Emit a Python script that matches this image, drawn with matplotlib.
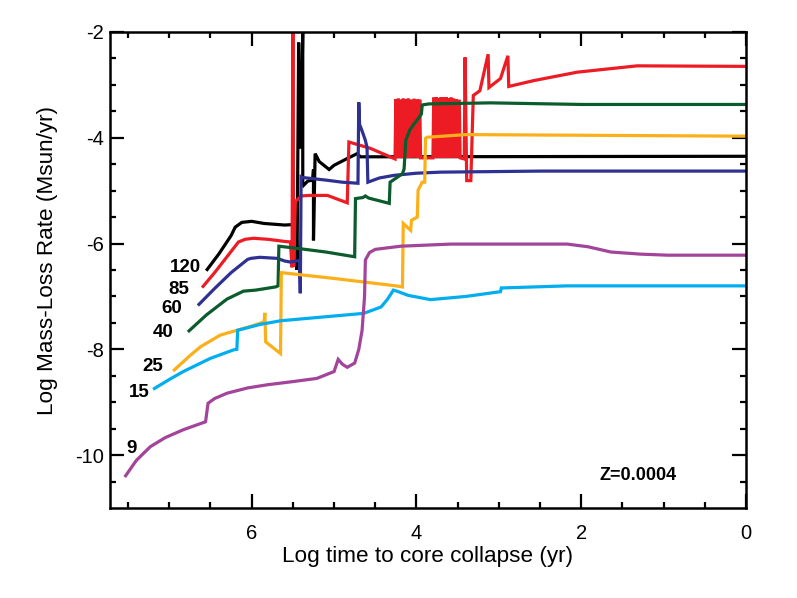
import matplotlib
matplotlib.use('Agg')
import matplotlib.pyplot as plt

plt.rcParams['font.family'] = ['Liberation Sans', 'DejaVu Sans']
plt.rcParams['axes.unicode_minus'] = False

# 120 Msun
m120_x = [6.54, 6.40, 6.25, 6.20, 6.12, 6.00, 5.85, 5.60, 5.48, 5.46, 5.45, 5.43, 5.41,
          5.40, 5.38, 5.38, 5.37, 5.32, 5.26, 5.25, 5.25, 5.23, 5.18, 5.06, 5.00,
          4.85, 4.72, 4.68, 0.0]
m120_y = [-6.49, -6.20, -5.85, -5.69, -5.60, -5.58, -5.62, -5.65, -5.64, -5.70, -6.50,
          -2.20, -4.10, -4.20, -1.90, -4.85, -4.90, -4.82, -4.80, -4.60, -5.94, -4.30,
          -4.45, -4.60, -4.52, -4.40, -4.30, -4.36, -4.35]

# 85 Msun
m85_x = [6.59, 6.45, 6.30, 6.16, 6.08, 5.98, 5.80, 5.60, 5.53, 5.51, 5.50, 5.49, 5.47,
         5.45, 5.40, 5.30, 5.08, 4.84, 4.82, 4.56, 4.26,
         4.25, 4.24, 4.22, 4.21, 4.19, 4.18, 4.16, 4.15, 4.13, 4.12, 4.10, 4.09,
         4.07, 4.06, 4.03, 4.02, 3.99, 3.98, 3.96, 3.95,
         3.80,
         3.79, 3.78, 3.76, 3.75, 3.73, 3.72, 3.70, 3.69, 3.67, 3.66, 3.64, 3.63,
         3.61, 3.60, 3.58, 3.57, 3.55, 3.54, 3.52, 3.51, 3.48, 3.47,
         3.42, 3.41, 3.39, 3.34, 3.31, 3.23, 3.13, 3.12, 2.98, 2.89, 2.88,
         2.58, 2.05, 1.32, 0.0]
m85_y = [-6.81, -6.55, -6.25, -5.97, -5.92, -5.90, -5.92, -5.96, -5.97, -6.45, -1.90,
         -6.44, -5.20, -5.18, -5.10, -5.09, -5.09, -5.23, -4.08, -4.20, -4.40,
         -3.27, -4.38, -3.26, -4.38, -3.28, -4.38, -3.26, -4.38, -3.27, -4.38,
         -3.26, -4.38, -3.28, -4.38, -3.26, -4.38, -3.27, -4.38, -3.28, -4.38,
         -4.38,
         -3.24, -4.38, -3.23, -4.38, -3.25, -4.38, -3.23, -4.38, -3.24, -4.38,
         -3.23, -4.38, -3.25, -4.38, -3.24, -4.38, -3.26, -4.38, -3.27, -4.38,
         -3.28, -4.38,
         -4.40, -2.48, -4.81, -4.81, -3.20, -3.11, -2.42, -3.05, -2.88, -2.45,
         -3.03, -2.92, -2.76, -2.64, -2.65]

# 60 Msun
m60_x = [6.64, 6.45, 6.25, 6.05, 6.01, 5.90, 5.69, 5.60, 5.53, 5.42, 5.41, 5.40,
         5.39, 5.10, 4.90, 4.71, 4.70, 4.69, 4.66, 4.62, 4.60, 4.59, 4.45, 4.27,
         4.00, 3.71, 2.50, 0.0]
m60_y = [-7.15, -6.85, -6.55, -6.30, -6.28, -6.26, -6.28, -6.33, -6.35, -6.32,
         -6.94, -4.74, -4.75, -4.80, -4.84, -4.86, -3.33, -3.75, -3.87, -4.05,
         -4.18, -4.84, -4.76, -4.71, -4.67, -4.65, -4.63, -4.63]

# 40 Msun
m40_x = [6.76, 6.55, 6.30, 6.10, 5.95, 5.71, 5.68, 5.67, 5.40, 5.10, 4.75, 4.74,
         4.65, 4.62, 4.58, 4.33, 4.32, 4.17, 4.15, 4.13, 4.08, 4.03, 3.97, 3.94,
         3.93, 3.85, 3.10, 2.00, 0.0]
m40_y = [-7.65, -7.35, -7.05, -6.90, -6.88, -6.82, -6.80, -6.05, -6.10, -6.16,
         -6.25, -5.15, -5.13, -5.10, -5.14, -5.24, -4.84, -4.68, -4.59, -4.05,
         -3.85, -3.74, -3.62, -3.55, -3.38, -3.36, -3.34, -3.37, -3.37]

# 25 Msun
m25_x = [6.94, 6.75, 6.62, 6.38, 6.18, 6.00, 5.85, 5.84, 5.83, 5.65, 5.64, 5.00,
         4.25, 4.17, 4.16, 4.07, 4.06, 3.99, 3.98, 3.93, 3.90, 3.89, 3.87, 3.40, 0.0]
m25_y = [-8.39, -8.12, -7.95, -7.73, -7.64, -7.56, -7.48, -7.31, -7.86, -8.08,
         -6.55, -6.66, -6.80, -6.82, -5.62, -5.75, -5.56, -5.50, -4.99, -4.84,
         -4.84, -4.01, -3.99, -3.94, -3.97]

# 15 Msun
m15_x = [7.18, 7.00, 6.83, 6.50, 6.22, 6.18, 6.17, 5.90, 5.65, 5.00, 4.64, 4.43,
         4.35, 4.28, 4.22, 4.10, 3.83, 3.40, 2.98, 2.97, 2.17, 0.0]
m15_y = [-8.74, -8.57, -8.42, -8.17, -8.01, -8.00, -7.64, -7.53, -7.46, -7.37,
         -7.32, -7.20, -7.05, -6.88, -6.91, -6.98, -7.06, -7.00, -6.91, -6.84,
         -6.80, -6.80]

# 9 Msun
m9_x = [7.53, 7.40, 7.23, 7.05, 6.83, 6.56, 6.53, 6.45, 6.30, 6.05, 5.81, 5.50,
        5.21, 5.00, 4.95, 4.90, 4.84, 4.75, 4.70, 4.66, 4.63, 4.62, 4.57, 4.50,
        4.19, 3.58, 2.17, 1.92, 1.64, 1.28, 0.95, 0.0]
m9_y = [-10.39, -10.10, -9.84, -9.67, -9.52, -9.37, -9.02, -8.93, -8.83, -8.73,
        -8.67, -8.61, -8.55, -8.42, -8.19, -8.28, -8.34, -8.26, -8.00, -7.64,
        -7.00, -6.31, -6.17, -6.11, -6.05, -6.01, -6.01, -6.06, -6.16, -6.20,
        -6.22, -6.22]

series = [
    ('120', m120_x, m120_y, '#000000', 6.62, -6.45),
    ('85', m85_x, m85_y, '#ed1c24', 6.76, -6.86),
    ('60', m60_x, m60_y, '#2e3192', 6.84, -7.22),
    ('40', m40_x, m40_y, '#0a5c2c', 6.95, -7.69),
    ('25', m25_x, m25_y, '#fbb01a', 7.07, -8.32),
    ('15', m15_x, m15_y, '#00aeef', 7.24, -8.81),
    ('9', m9_x, m9_y, '#a2449a', 7.39, -9.88),
]

fig = plt.figure(figsize=(7.97, 5.98), dpi=100)
ax = fig.add_axes([0.138, 0.1505, 0.798, 0.796])

for name, xs, ys, col, lx, ly in series:
    ax.plot(xs, ys, color=col, lw=2.3, solid_joinstyle='miter')
    ax.text(lx, ly, name, ha='right', va='center', fontsize=13.5,
            fontweight='bold')

ax.text(1.31, -10.39, 'Z=0.0004', ha='center', va='center', fontsize=13,
        fontweight='bold')

ax.set_xlim(7.72, 0)
ax.set_ylim(-11, -2)
ax.set_xticks([6, 4, 2, 0])
ax.set_xticks([7.5, 7, 6.5, 5.5, 5, 4.5, 3.5, 3, 2.5, 1.5, 1, 0.5], minor=True)
ax.set_yticks([-10, -8, -6, -4, -2])
ax.set_yticks([-10.5, -9.5, -9, -8.5, -7.5, -7, -6.5, -5.5, -5, -4.5, -3.5,
               -3, -2.5], minor=True)
ax.tick_params(which='both', direction='in', top=True, right=True, width=1.6,
               labelsize=14.5)
ax.tick_params(axis='x', which='major', pad=11.5)
ax.tick_params(axis='y', which='major', pad=4.5)
ax.tick_params(which='major', length=10)
ax.tick_params(which='minor', length=4.5)
for s in ax.spines.values():
    s.set_linewidth(1.8)

ax.set_xlabel('Log time to core collapse (yr)', fontsize=16.2, labelpad=2)
ax.set_ylabel('Log Mass-Loss Rate (Msun/yr)', fontsize=16.2)
ax.yaxis.set_label_coords(-0.082, 0.52)

fig.savefig('out.png', dpi=100)
